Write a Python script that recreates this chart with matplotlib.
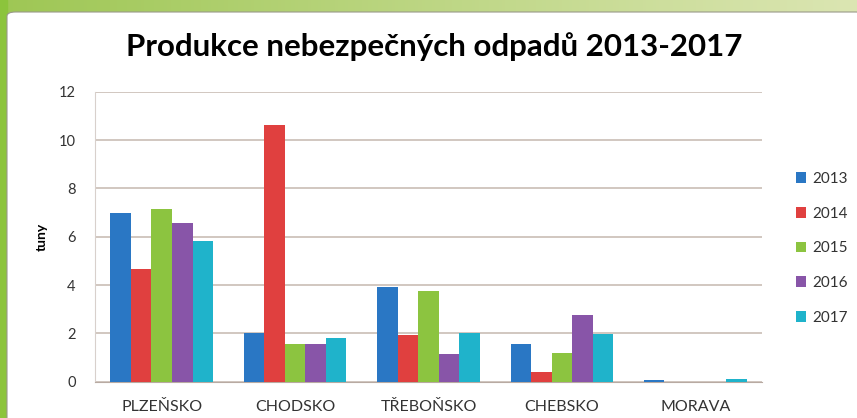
import numpy as np
from matplotlib import pyplot
from matplotlib.patches import FancyBboxPatch

regions = ['PLZEŇSKO', 'CHODSKO', 'TŘEBOŇSKO', 'CHEBSKO', 'MORAVA']
years   = ['2013', '2014', '2015', '2016', '2017']
v2013   = [7.00, 2.00, 3.90, 1.58, 0.05]
v2014   = [4.68, 10.63, 1.93, 0.41, 0.0]
v2015   = [7.16, 1.58, 3.75, 1.17, 0.0]
v2016   = [6.57, 1.54, 1.13, 2.78, 0.0]
v2017   = [5.84, 1.79, 2.00, 1.96, 0.10]
series  = [v2013, v2014, v2015, v2016, v2017]
colors  = ['#2a77c4', '#e0403f', '#8cc440', '#8855a8', '#1fb3cb']

fontname = 'Lato'
pyplot.rcParams['font.family'] = [fontname, 'DejaVu Sans']

fig = pyplot.figure(figsize=(8.57, 4.18), dpi=100)

### green frame behind a white panel
bg = fig.add_axes([0, 0, 1, 1])
grad = np.linspace(0, 1, 256)[None, :]
top = np.array([0.62, 0.78, 0.33])
bot = np.array([0.86, 0.90, 0.70])
img = top[None, None, :] * (1 - grad[..., None]) + bot[None, None, :] * grad[..., None]
bg.imshow(img, extent=[0, 1, 0, 1], aspect='auto')
bg.axvspan(0, 7/857, color='#8cc43c')
bg.add_patch(FancyBboxPatch((7/857, -0.05), 1.0, 1 - 12/418 + 0.05,
             boxstyle='round,pad=0,rounding_size=0.01', fc='white', ec='#9a9a8a', lw=0.8))
bg.set_xlim(0, 1); bg.set_ylim(0, 1); bg.axis('off')

### bars
ax = fig.add_axes([95/857, 1 - 381.7/418, 667/857, 290/418])
x = np.arange(len(regions))
w = 0.154
for i, (vals, c, yr) in enumerate(zip(series, colors, years)):
	ax.bar(x + (i - 2) * w, vals, width=w, color=c, label=yr, zorder=3)
ax.set_xlim(-0.5, len(regions) - 0.5)
ax.set_ylim(0, 12)
ax.set_yticks(np.arange(0, 13, 2))
ax.set_xticks(x)
ax.set_xticklabels(regions, fontsize=11.5, color='#333333')
ax.tick_params(axis='y', labelsize=10.5, colors='#333333', length=0, pad=14)
ax.tick_params(axis='x', length=0, pad=13)
ax.grid(axis='y', color='#c9bdb5', lw=1.2, zorder=0)
for s in ['top', 'right']:
	ax.spines[s].set_visible(False)
ax.spines['left'].set_color('#d8d0cc')
ax.spines['bottom'].set_color('#b8aaa2')
ax.set_ylabel('tuny', fontsize=10, fontweight='bold')
ax.yaxis.set_label_coords(-0.0705, 0.5)
ax.set_facecolor('none')

leg = ax.legend(loc='center left', bbox_to_anchor=(1.03, 0.46), frameon=False,
                handlelength=0.7, handleheight=0.7, labelspacing=1.36, fontsize=11, handletextpad=0.4)
for t in leg.get_texts():
	t.set_color('#333333')

fig.text(0.507, 1 - 47/418, 'Produkce nebezpečných odpadů 2013-2017', ha='center', va='center',
         fontsize=22.5, fontweight='bold', color='black')

pyplot.savefig('out.png', dpi=100)
